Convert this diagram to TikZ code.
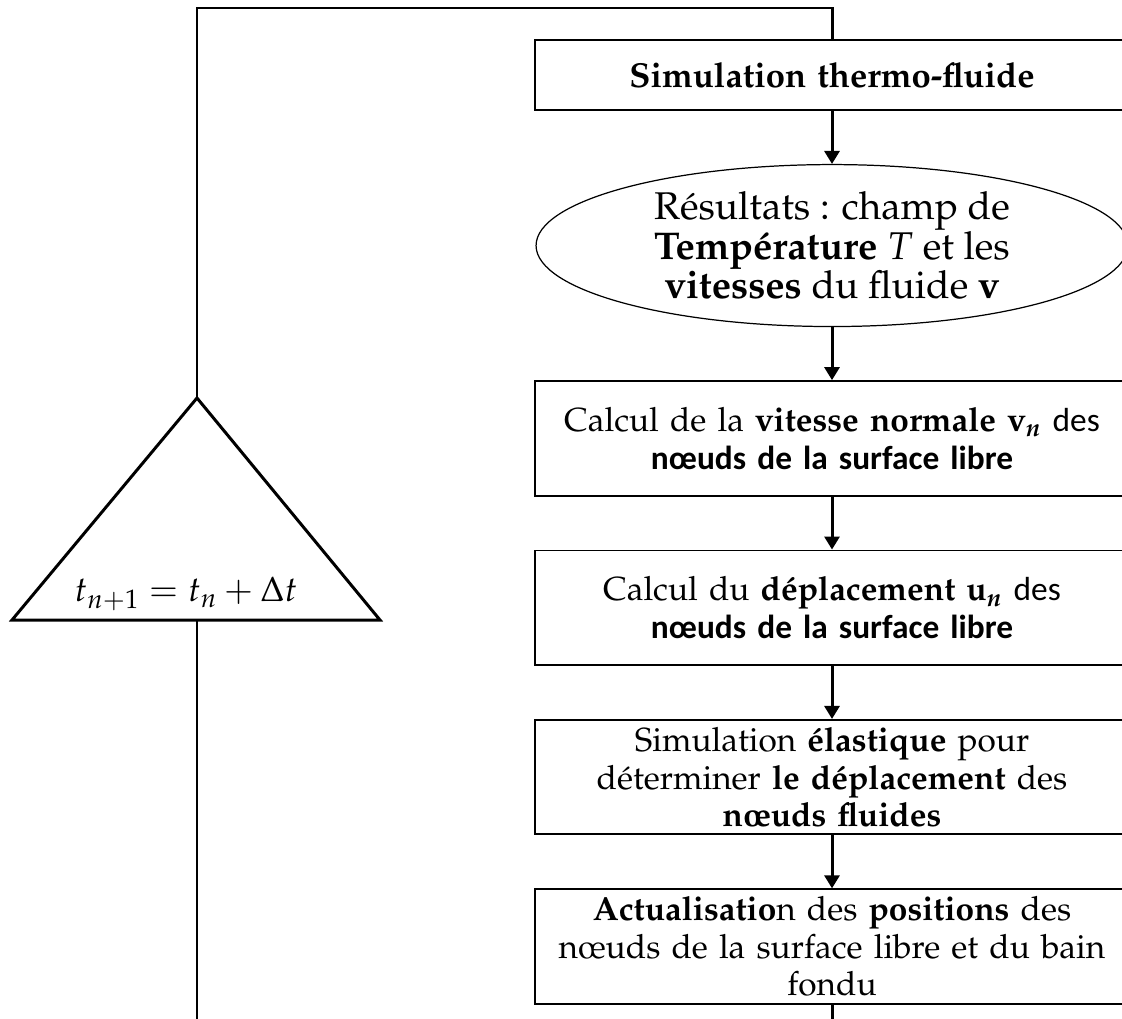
\documentclass[tikz,border=0pt]{standalone}
\usepackage{fontspec}
\newfontfamily\calib{Carlito}
\usepackage[T1]{fontenc}
\usepackage{mathpazo}
\usepackage{bm}
\renewcommand{\bfdefault}{b}
\newcommand{\gras}[1]{{\fontencoding{T1}\fontfamily{ppl}\fontseries{b}\selectfont #1}}
\usetikzlibrary{positioning,shapes.geometric,arrows.meta}
\begin{document}
\begin{tikzpicture}[x=0.02cm,y=-0.02cm,>={Triangle[length=0.26cm,width=0.3cm]},
    font=\fontsize{19}{21.3}\selectfont,node distance=1.06cm,
    etape/.style={draw,line width=1.1pt,minimum width=11.88cm,minimum height=2.29cm,
        text width=11.6cm,align=center,inner sep=1pt},
    resultat/.style={draw,ellipse,line width=0.7pt,minimum width=11.84cm,
        minimum height=3.24cm,align=center,inner sep=0pt,font=\fontsize{22}{22.6}\selectfont},
    fleche/.style={->,line width=1.7pt},
    boucle/.style={line width=1.7pt,line join=miter}]
    \useasboundingbox (0,0) rectangle (1122,1018);
    % colonne de droite
    \node[etape,minimum height=1.4cm] (simu) at (832,75) {\fontsize{19.7}{21.3}\selectfont\gras{Simulation thermo-fluide}};
    \node[resultat,below=of simu] (res) {R\'esultats : champ de\\
        \gras{Temp\'erature} $T$ et les\\ \gras{vitesses} du fluide $\mathbf{v}$};
    \node[etape,below=of res] (vit) {Calcul de la \gras{vitesse normale} $\mathbf{v}_{\bm{n}}$ {\calib des}\\
        {\calib\bfseries n\oe uds de la surface libre}};
    \node[etape,below=of vit] (depl) {Calcul du \gras{d\'eplacement} $\mathbf{u}_{\bm{n}}$ {\calib des}\\
        {\calib\bfseries n\oe uds de la surface libre}};
    \node[etape,below=of depl] (elas) {Simulation \gras{\'elastique} pour\\
        d\'eterminer \gras{le d\'eplacement} des\\ \gras{n\oe uds fluides}};
    \node[etape,below=of elas] (maj) {\gras{Actualisatio}n des \gras{positions} des\\
        n\oe uds de la surface libre et du bain\\ fondu};
    \draw[fleche] (simu) -- (res);
    \draw[fleche] (res) -- (vit);
    \draw[fleche] (vit) -- (depl);
    \draw[fleche] (depl) -- (elas);
    \draw[fleche] (elas) -- (maj);
    % pas de temps
    \coordinate (sommet) at (197,398);
    \coordinate (base) at (197,620);
    \draw[boucle] (sommet) -- (12,620) -- (380,620) -- cycle;
    \node (pas) at (186,594) {\fontsize{20}{24}\selectfont$t_{n+1}=t_n+\Delta t$};
    % boucle
    \draw[boucle] (maj.south) -- ++(0,22) -| (base);
    \draw[boucle] (sommet) -- ++(0,-390) -| (simu.north);
\end{tikzpicture}
\end{document}
